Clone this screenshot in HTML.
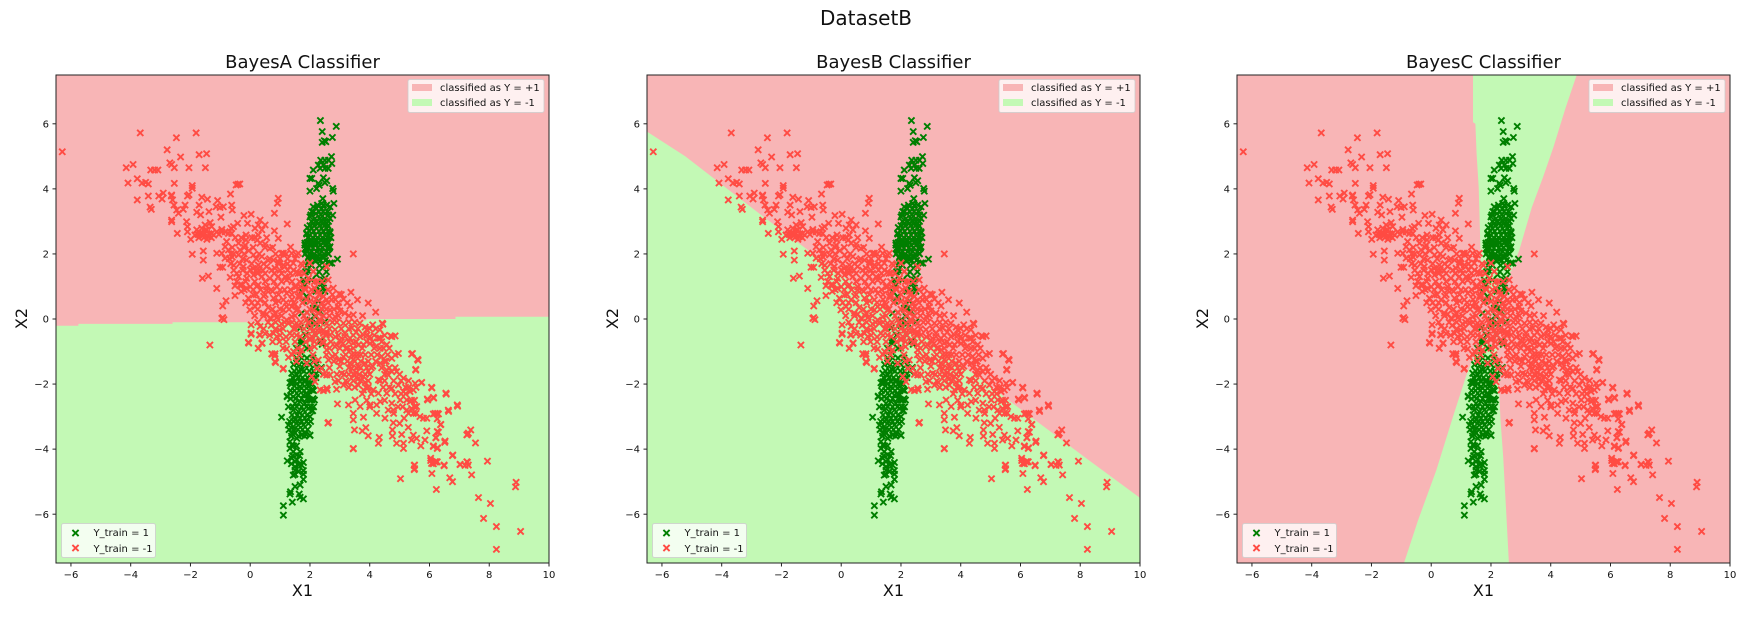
<!DOCTYPE html>
<html>
<head>
<meta charset="utf-8">
<title>DatasetB</title>
<style>
html,body{margin:0;padding:0;background:#fff;}
svg{display:block;}
text{font-family:"DejaVu Sans","Liberation Sans",sans-serif;fill:#111;}
</style>
</head>
<body>
<svg id="fig" xmlns="http://www.w3.org/2000/svg" width="1756" height="618" viewBox="0 0 1756 618">
<text x="866" y="25" font-size="20" text-anchor="middle">DatasetB</text>
</svg>
<script>
const xTicks = [-6,-4,-2,0,2,4,6,8,10];
const yTicks = [-6,-4,-2,0,2,4,6];
const xDomain = [-6.5,10];
const yDomain = [-7.5,7.5];
const classifierNames = ["BayesA Classifier","BayesB Classifier","BayesC Classifier"];
const regionLabels = ["classified as Y = +1","classified as Y = -1"];
const trainLabels = ["Y_train = 1","Y_train = -1"];

const boundaryA = [[-6.5,-0.21],[-5.75,-0.21],[-5.75,-0.15],[-2.6,-0.15],[-2.6,-0.1],[0.7,-0.1],[0.7,-0.05],[3.9,-0.05],[3.9,0],[6.87,0],[6.87,0.07],[10,0.07]];
const boundaryB = [[-6.5,5.76],[-5.22,5.0],[-2.8,3.28],[-0.49,1.69],[5.65,-2.53],[8.2,-4.28],[10,-5.5]];
const wedgeUpperC = [[1.40,7.5],[1.40,6.05],[1.48,6],[1.52,5.08],[1.59,4.05],[1.65,2.1],[1.72,1.0],[2.0,0.6],[2.69,1.49],[2.94,2.1],[3.37,3.44],[3.74,4.36],[4.09,5.28],[4.5,6.5],[4.87,7.5]];
const wedgeLowerC = [[-0.91,-7.5],[-0.44,-6.18],[0.17,-4.65],[0.73,-3.0],[1.16,-1.77],[1.4,-1.2],[1.8,-0.7],[2.2,-0.9],[2.26,-1.87],[2.32,-3.1],[2.41,-4.24],[2.51,-5.93],[2.6,-7.5]];

const greenPoints = [
[2.35,6.1],[2.88,5.92],[2.41,5.76],[2.75,5.58],[2.41,5.43],[2.53,5.45],[2.48,5.48],[2.72,4.99],[2.36,4.88],[2.5,4.88],[2.62,4.88],[2.73,4.78],[2.28,4.73],[2.45,4.73],[2.61,4.63],[2.34,4.63],[2.5,4.63],[2.11,4.58],[2.06,4.32],[2.0,4.32],[2.45,4.34],[2.56,4.25],[2.5,4.19],[2.28,4.17],[2.22,4.01],[2.31,4.11],[2.0,3.93],[2.76,4.01],[2.78,3.93],[2.43,3.7],[2.39,3.55],[2.56,3.5],[2.8,3.55],[2.11,3.45],[2.22,3.4],[2.39,3.4],[2.06,3.3],[2.2,3.24],[2.5,3.24],[2.67,3.45],[2.76,3.19],[2.0,3.14],[2.17,3.09],[2.34,3.09],[2.5,3.09],[2.67,3.09],[2.11,2.94],[2.28,2.94],[2.45,2.94],[2.56,2.94],[1.91,2.81],[2.06,2.78],[2.22,2.78],[2.39,2.78],[2.56,2.78],[2.67,2.68],[1.89,2.61],[2.0,2.58],[2.17,2.58],[2.34,2.58],[2.5,2.58],[2.06,2.42],[2.22,2.42],[2.39,2.42],[2.56,2.42],[1.83,2.27],[2.0,2.27],[2.17,2.27],[2.34,2.27],[2.5,2.27],[2.67,2.22],[1.89,2.07],[2.06,2.07],[2.22,2.07],[2.39,2.07],[2.56,2.07],[1.95,1.91],[2.11,1.91],[2.28,1.91],[2.45,1.91],[2.61,2.01],[2.92,1.84],
[1.89,2.64],[2.67,2.64],[1.83,2.33],[2.5,2.38],[1.89,2.13],[2.17,2.33],[2.34,2.13],[2.11,1.97],[2.45,1.92],[1.95,1.87],[2.28,1.82],[2.67,1.72],[2.73,1.72],[1.95,1.46],[2.22,1.36],[2.39,1.1],[2.45,0.95],[1.89,0.69],[2.11,0.33],[2.22,-0.13],[1.67,-0.28],[1.67,-0.69],[2.5,1.25],[1.83,1.05],[2.17,0.08],[2.34,-0.69],
[1.11,-5.74],[1.11,-6.03],[1.41,-5.63],[1.78,-5.53],[1.64,-5.38],[1.67,-5.48],[1.35,-5.31],[1.33,-5.38],[1.5,-5.15],[1.67,-5.1],[1.78,-4.93],[1.78,-4.77],[1.78,-4.66],[1.44,-4.8],[1.5,-4.77],[1.61,-4.69],[1.24,-4.36],[1.78,-4.41],[1.72,-4.49],[1.61,-4.49],[1.5,-4.38],[1.56,-4.33],[1.39,-4.28],[1.5,-4.54],[1.44,-4.08],[1.67,-4.08],[1.33,-3.98],[1.56,-4.18],[1.39,-3.87],[1.33,-3.77],[1.05,-3.02],[1.24,-2.39],[2.0,-3.57],[1.56,-3.67],[1.39,-3.51],[1.72,-3.57],[1.83,-3.51],[1.5,-3.51],[1.28,-3.26],[1.44,-3.31],[1.61,-3.26],[1.78,-3.26],[1.95,-3.21],[1.5,-3.1],[1.67,-3.05],[1.83,-3.05],[2.0,-3.0],[2.09,-2.82],[1.28,-2.7],[1.44,-2.8],[1.61,-2.85],[1.78,-2.8],[1.95,-2.75],[1.5,-2.59],[1.67,-2.54],[1.83,-2.59],[2.0,-2.49],[2.15,-2.49],[1.44,-2.39],[1.61,-2.34],[1.78,-2.34],[1.95,-2.34],[1.56,-2.13],[1.72,-2.13],[1.89,-2.13],[2.06,-2.18],[1.5,-1.93],[1.67,-1.93],[1.83,-1.93],[2.0,-1.98],[1.33,-1.96],
[1.24,-2.37],[1.39,-1.93],[1.67,-2.08],[1.89,-2.33],[1.39,-1.67],[1.56,-1.36],[1.72,-1.57],[1.89,-1.36],[1.56,-1.72],[1.84,-1.87],[1.72,-0.75],[1.67,-1.0],[1.89,0.69],[2.12,0.33],[1.72,0.18],[2.0,-0.03],[2.39,1.1],[2.34,0.89],[2.23,0.33],[1.78,1.05],[2.34,0.23],[2.5,-0.08],[2.38,-1.49],[2.19,-1.69],[2.06,-2.49],[2.06,-2.82],[2.41,-0.78],[1.74,-0.67],[2.0,-3.58],
[2.25,3.5],[2.45,3.5],[2.12,3.3],[2.3,3.3],[2.44,3.3],[2.6,3.3],[2.03,3.2],[2.36,3.2],[2.62,3.2],[2.05,3.0],[2.2,3.0],[2.38,3.0],[2.5,3.0],[2.62,3.0],[2.0,2.87],[2.14,2.87],[2.33,2.87],[2.48,2.87],[2.6,2.87],[1.98,2.7],[2.12,2.7],[2.3,2.7],[2.44,2.7],[2.6,2.7],[1.93,2.5],[2.1,2.5],[2.25,2.5],[2.42,2.5],[2.58,2.5],[2.7,2.5],[1.9,2.35],[2.02,2.35],[2.12,2.35],[2.3,2.35],[2.45,2.35],[2.62,2.35],[1.86,2.18],[1.96,2.18],[2.1,2.18],[2.26,2.18],[2.42,2.18],[2.58,2.18],[2.65,2.18],[1.84,2.0],[1.98,2.0],[2.14,2.0],[2.3,2.0],[2.47,2.0],[2.62,2.0],[1.98,1.8],[2.17,1.8],[2.36,1.8],[2.52,1.8],[1.9,1.65],[2.05,1.65],[2.32,1.65],[2.5,1.65],
[1.85,1.45],[2.3,1.45],[2.55,1.45],[1.78,1.2],[2.05,1.2],[2.45,1.2],[1.72,0.85],[2.2,0.85],[2.5,0.85],[1.8,0.55],[2.28,0.55],[1.9,0.2],[2.32,0.2],[1.62,-0.2],[2.0,-0.2],[1.85,-0.5],[2.2,-0.5],[1.55,-0.9],[1.9,-0.9],
[1.55,-1.2],[1.72,-1.2],[1.9,-1.2],[2.1,-1.2],[1.45,-1.4],[1.65,-1.4],[1.8,-1.4],[2.0,-1.4],[2.2,-1.4],[1.48,-1.6],[1.62,-1.6],[1.8,-1.6],[1.98,-1.6],[2.12,-1.6],[2.3,-1.6],[1.42,-1.8],[1.6,-1.8],[1.75,-1.8],[1.92,-1.8],[2.06,-1.8],[2.2,-1.8],[1.38,-2.0],[1.55,-2.0],[1.75,-2.0],[1.9,-2.0],[2.08,-2.0],[1.35,-2.2],[1.48,-2.2],[1.64,-2.2],[1.8,-2.2],[1.97,-2.2],[2.12,-2.2],[1.35,-2.45],[1.52,-2.45],[1.72,-2.45],[1.9,-2.45],[2.1,-2.45],[1.42,-2.7],[1.56,-2.7],[1.72,-2.7],[1.88,-2.7],[2.02,-2.7],[2.12,-2.7],[1.4,-2.95],[1.58,-2.95],[1.74,-2.95],[1.9,-2.95],[1.32,-3.15],[1.45,-3.15],[1.6,-3.15],[1.72,-3.15],[1.88,-3.15],[2.02,-3.15],[1.3,-3.4],[1.45,-3.4],[1.6,-3.4],[1.75,-3.4],[1.92,-3.4],[1.38,-3.6],[1.62,-3.6],[1.82,-3.6],[1.45,-3.9],[1.55,-3.9],[1.42,-4.2],[1.65,-4.2],[1.38,-4.45],[1.66,-4.45],[1.5,-4.65]
];

const redPoints = [
[-6.29,5.14],[-3.68,5.72],[-1.81,5.72],[-2.47,5.57],[-2.78,5.2],[-2.33,4.98],[-1.71,5.05],[-1.46,5.08],[-2.69,4.8],[-2.63,4.75],[-2.54,4.65],[-2.05,4.65],[-1.5,4.65],[-4.15,4.65],[-3.92,4.75],[-3.33,4.58],[-3.2,4.58],[-3.09,4.58],[-3.78,4.31],[-4.09,4.18],[-3.62,4.18],[-3.41,4.15],[-3.5,4.2],[-3.41,3.78],[-3.06,3.78],[-2.91,3.87],[-2.95,3.69],[-3.78,3.66],[-3.35,3.44],[-3.31,3.37],[-2.64,3.78],
[-2.54,4.17],[-1.94,4.1],[-1.94,4.02],[-0.41,4.14],[-0.47,4.12],[-0.35,4.15],[-2.05,3.82],[-2.1,3.78],[-0.66,3.84],[-2.63,3.81],[-1.62,3.74],[-1.43,3.68],[0.94,3.71],[0.91,3.56],[-2.6,3.66],[-2.55,3.5],[-2.46,3.35],[-2.4,3.25],[-2.18,3.5],[-2.24,3.37],[-1.71,3.5],[-1.09,3.64],[-1.14,3.45],[-1.01,3.43],[-0.9,3.45],[-0.62,3.5],[-0.6,3.35],[-1.38,3.3],[-1.79,3.28],[-1.66,3.2],[-0.98,3.13],[0.81,3.25],[-0.21,3.18],[0.03,3.22],[-2.63,2.99],[-2.63,3.04],[-2.13,2.99],[-2.1,2.84],[-2.1,2.68],[-2.44,2.63],[1.24,2.92],[-0.09,2.94],[0.33,3.04],[0.5,2.89],[0.27,2.89],[0.16,2.79],[0.39,2.74],[-0.42,2.94],[-0.56,2.84],[-0.64,2.79],[-0.62,2.63],[-0.73,2.63],[-1.34,2.96],[-1.51,2.89],[-1.29,2.84],[-1.79,2.74],[-1.62,2.79],[-1.68,2.63],[-1.57,2.58],[-1.4,2.53],[-1.29,2.63],[-1.46,2.74],[-1.99,2.45],[-1.85,2.58],[-1.12,2.68],[-0.95,2.68],[-0.84,2.68],[0.81,2.71],[0.94,2.48],[-0.14,2.58],[-0.14,2.43],[-0.17,2.27],[0.27,2.58],[0.24,2.43],[0.33,2.33],[-0.79,2.38],[-0.84,2.22],[-0.73,2.12],[-0.95,2.02],[-0.84,1.87],[-0.39,2.33],[-0.34,2.12],[-0.39,1.97],[-1.12,2.02],[-1.94,1.99],[-1.57,2.09],[-1.57,1.81],[-0.92,1.59],[-1.01,1.59],[-1.6,1.25],[-1.4,1.32],[-1.12,0.94],[-0.67,1.28],
[-0.12,1.81],[0.11,1.97],[0.39,1.92],[0.66,2.17],[0.78,1.81],[1.05,2.02],[1.39,2.02],[1.61,2.02],[-0.23,1.61],[0,1.51],[0.27,1.66],[0.55,1.61],[0.83,1.56],[1.11,1.66],[1.33,1.61],[-0.39,1.3],[-0.12,1.25],[0.11,1.35],[0.39,1.3],[0.66,1.25],[0.94,1.3],[1.17,1.3],[-0.28,1.05],[0,0.99],[0.27,1.05],[0.55,0.99],[0.89,0.99],[1.5,0.99],
[-0.51,1.02],[-0.51,0.72],[-0.81,0.56],[-0.92,0.4],[-0.92,0.04],[-0.06,-0.72],[0.03,-0.18],[0.03,-0.44],[0.33,-0.23],[0.31,-0.49],[0.39,-0.75],[0.27,-0.9],[0.78,-0.44],[0.98,-0.34],[0.98,-0.7],[0.89,-0.54],[0.72,-1.07],[0.83,-1.07],[0.83,-1.31],[1.11,-1.52],[1.22,-0.92],[1.28,-1.18],[1.45,-1.0],
[-0.06,0.64],[0.16,0.38],[-0.01,0.28],[0.33,0.59],[0.44,0.18],[0.66,0.02],[0.83,0.18],[0.11,0.74],[-0.12,0.94],[0.55,0.89],[1.0,0.89],[1.11,0.59],[0.78,0.64],[1.11,0.28],[1.39,0.38],[1.39,0.07],[1.61,-0.23],[1.28,-0.13],[1.61,0.69],[1.67,1.0],[1.89,0.59],[2.12,0.28],[2.34,-0.03],[2.56,0.59],[2.45,-0.34],[2.12,-0.34],[1.89,-0.03],[1.67,-0.54],[2.0,-0.64],[2.34,-0.64],[2.56,-0.8],[0.22,1.0],[-0.34,1.05],
[2.06,-1.77],[2.17,-1.93],[2.34,-2.18],[2.56,-2.13],[2.23,-1.52],[2.39,-1.52],[2.56,-1.72],[1.89,-1.36],[1.72,-0.95],[2.28,-1.26],[2.62,-1.26],
[3.45,2.0],[1.35,2.21],[3.37,0.82],[3.59,0.59],[3.95,0.49],[4.2,0.21],[2.98,0.77],[3.12,0.61],[3.34,0.4],[2.95,0.38],[3.17,0.18],[2.78,0.95],[3.45,0.13],[3.76,0.1],[3.67,-0.13],[4.1,-0.18],[3.9,-0.33],[4.42,-0.13],[4.34,-0.33],[4.85,-0.52],[4.7,-0.52],[4.29,-0.59],[4,-0.54],[3.67,-0.54],[3.4,-0.28],[3.12,-0.13],[2.84,0.07],[2.67,0.28],[2.73,0.59],[2.45,0.38],[2.56,-0.13],[2.84,-0.33],[3.17,-0.54],[3.45,-0.74],[3.79,-0.79],[4.57,-0.79],[2.45,-0.44],[2.17,-0.13],
[1.11,2.02],[1.55,1.97],[1.16,1.61],[1.44,1.72],[1.67,1.41],[1.22,1.2],[1.55,1.0],[1.22,0.79],[1.83,0.95],[1.67,0.69],[1.22,0.38],[1.55,0.28],[2.0,1.72],[2.11,1.46],[2.56,1.61],[2.61,1.2],[2.28,0.85],[2,0.54],[2.45,0.69],[2.28,0.18],[1.95,-0.13],[1.55,-0.13],[1.22,-0.03],[1.67,-0.54],[1.33,-0.44],[2.06,-0.54],[2.45,-0.74],[2.89,-0.79],
[5.43,-1.06],[5.6,-1.24],[5.54,-1.55],[5.74,-1.95],[6.07,-2.1],[6.55,-2.28],[6.13,-2.41],[5.93,-2.46],[6.93,-2.64],[6.63,-2.8],[6.38,-3.24],[6.19,-2.9],[6.27,-2.9],[2.62,-3.18],[2.92,-2.61],[2.45,-2.2],[2.58,-2.18],[2.89,-2.16],[3.29,-2.64],[3.45,-2.9],[3.45,-3.1],[3.79,-3.02],[3.49,-3.41],[3.75,-3.44],[3.87,-3.34],[3.95,-3.59],[4.32,-3.64],[4.29,-3.82],[3.45,-3.98],[4.51,-3.05],[4.79,-3.19],[5.0,-3.21],[5.15,-3.05],[5.29,-3.33],[4.76,-3.41],[4.76,-3.6],[5.07,-3.55],[4.9,-3.82],[5.13,-3.82],[5.13,-3.98],[5.46,-3.57],[5.57,-3.67],[5.4,-3.72],[5.71,-3.9],[5.85,-3.72],[5.91,-3.44],[6.26,-3.46],[6.22,-3.65],[6.13,-3.9],[6.26,-3.98],[6.52,-3.75],[6.78,-4.18],[5.5,-4.49],[5.5,-4.6],[6.04,-4.28],[6.19,-4.39],[6.07,-4.44],[6.26,-4.39],[6.49,-4.49],[7.02,-4.47],[7.25,-4.39],[7.3,-4.49],[7.3,-3.51],[7.25,-3.56],
[5.57,-2.69],[5.46,-2.9],[5.8,-3.05],[5.91,-3.05],[5.35,-2.54],[5.24,-2.49],[5.13,-2.23],[5.46,-2.18],[4.96,-2.03],[4.74,-2.13],[4.57,-2.28],[4.29,-2.28],[4.12,-2.18],[3.9,-2.13],[3.51,-2.49],[3.68,-2.69],[4.01,-2.64],[4.23,-2.64],[4.35,-2.54],[4.74,-2.59],[4.79,-2.8],[4.62,-2.8],[5.02,-2.49],[5.24,-2.8],[5.4,-2.75],[5.68,-3.0],[4.23,-2.9],[3.79,-2.18],[3.62,-2.03],[3.12,-2.03],[2.67,-1.72],[2.84,-1.93],[3.06,-1.67],[3.34,-1.36],[3.62,-1.47],[3.84,-1.36],[3.79,-1.77],[3.51,-1.72],[3.4,-1.52],[2.95,-1.26],[3.12,-1.16],[2.84,-0.85],[2.56,-0.95],[3.0,-0.65],[3.34,-0.59],[2.67,-0.49],[3.17,-0.44],[3.62,-0.8],[3.79,-0.49],[4.01,-0.75],[4.35,-0.59],[4.74,-0.54],[4.46,-0.9],[4.74,-1.21],[4.35,-1.36],[4.74,-1.62],[4.96,-1.06],[4.9,-1.62],[4.29,-1.87],[4.57,-1.57],[5.13,-1.82],[5.52,-1.98],[5.35,-2.23],
[3.2,-0.9],[3.5,-1.1],[3.3,-1.7],[3.7,-1.1],[3.6,-1.85],[3.95,-1.6],[3.45,-1.25],[3.55,-1.65],
[8.9,-5.02],[8.88,-5.16],[9.05,-6.53],[8.24,-6.38],[8.24,-7.08],[7.81,-6.13],[8.04,-5.67],[7.64,-5.49],[7.41,-4.79],[7.94,-4.37],[7.54,-3.81],[7.38,-3.41],[7.27,-3.55],[7.27,-4.4],[7.19,-4.5],[7.03,-4.47],[6.77,-4.2],[6.68,-4.88],[6.77,-5.0],[6.23,-5.24],[6.08,-4.75],[5.03,-4.91],[5.49,-4.5],[5.49,-4.63],[6.04,-4.35],[6.13,-4.45],[6.23,-4.39],[6.27,-3.96],[6.13,-3.92],[6.51,-3.79],[6.21,-3.65],[6.3,-3.48],[6.37,-3.25],[6.13,-2.92],[6.3,-2.92],[6.26,-3.07],[6.64,-2.84],[6.94,-2.68],[6.56,-2.31],[6.14,-2.43],[5.94,-2.49],[6.08,-2.12],[5.73,-1.96],[6.49,-4.51],[5.4,-1.08],[5.62,-1.27],[5.54,-1.57],[3.45,-3.99],[2.6,-3.2],[-1.35,-0.8],[-0.05,-0.74],[0.03,-0.47],[0.33,-0.49],[0.27,-0.9],[0.4,-0.74],[0.74,-1.08],[0.82,-1.13],[0.85,-1.34],[1.1,-1.54],[-0.95,0.02],[-0.88,-0.02],[4.44,-0.16],
[-0.3,0.85],[0.05,0.5],[0.6,0.35],[0.45,0.7],[0.75,0.85],[0.95,0.55],[0.55,0.15],[0.9,0.05],[1.05,-0.15],[0.7,-0.2],[0.5,-0.45],[1.2,-0.55],[1.45,-0.3],[1.4,0.6],[1.5,0.45],[1.9,0.2],[2.2,0.6],[2.6,0.9],[2.85,0.6],[3.0,0.25],[2.75,-0.1],[2.3,-0.4],[2.15,-0.85],[2.55,-0.45],[2.85,-0.55],[3.1,-0.75],[3.35,-0.95],[3.55,-0.4],[3.85,-0.25],[4.2,-0.85],[4.05,-1.1],[4.4,-1.15],[4.55,-1.3],[3.0,-1.45],[2.75,-1.15],[3.25,-1.95],[3.85,-1.95],[4.1,-1.45],[0.3,1.5],[0.6,1.8],[0.95,1.75],[-0.05,2.1],[0.5,2.3],[-0.55,1.65],[-0.6,1.9],[0.1,1.55],[1.3,1.25],[1.55,1.45],[1.75,1.65],[1.95,1.25],[2.25,1.15],[2.15,0.95],
[-1.75,2.6],[-1.6,2.65],[-1.5,2.72],[-1.38,2.62],[-1.22,2.58],[-1.05,2.6],[-1.55,2.5],[-1.72,2.5],[-1.45,2.45],[-1.3,2.5],[-0.95,2.75],
[-0.5,2.5],[-0.3,2.5],[0.05,2.5],[0.15,2.5],[0.55,2.5],[-0.6,2.2],[-0.2,2.2],[0.1,2.2],[0.5,2.2],[0.75,2.2],[-0.65,2.0],[-0.55,2.0],[-0.2,2.0],[0.3,2.0],[0.85,2.0],[1.2,2.0],[-0.7,1.85],[-0.25,1.85],[0.2,1.85],[0.65,1.85],[1.0,1.85],[1.25,1.85],[1.5,1.85],[-0.65,1.7],[-0.35,1.7],[0.05,1.7],[0.45,1.7],[0.95,1.7],[1.25,1.7],[1.7,1.7],[-0.55,1.5],[-0.25,1.5],[0.2,1.5],[0.42,1.5],[0.72,1.5],[1.0,1.5],[1.25,1.5],[1.45,1.5],[-0.45,1.4],[-0.1,1.4],[0.25,1.4],[0.5,1.4],[0.8,1.4],[1.05,1.4],[1.35,1.4],[1.6,1.4],[1.8,1.4],
[-0.45,1.15],[-0.15,1.15],[0.15,1.15],[0.5,1.15],[0.8,1.15],[1.05,1.15],[1.4,1.15],[1.65,1.15],[1.9,1.15],[2.15,1.15],[2.4,1.15],[-0.2,0.9],[0.1,0.9],[0.35,0.9],[0.7,0.9],[1.15,0.9],[1.35,0.9],[1.6,0.9],[1.85,0.9],[2.05,0.9],[2.6,0.9],[0.2,0.75],[0.5,0.75],[0.95,0.75],[1.4,0.75],[1.65,0.75],[2.0,0.75],[2.3,0.75],[2.75,0.75],[3.05,0.75],[-0.15,0.5],[0.25,0.5],[0.5,0.5],[0.85,0.5],[1.2,0.5],[1.45,0.5],[1.75,0.5],[2.15,0.5],[2.4,0.5],[2.6,0.5],[2.95,0.5],[3.25,0.5],[0.25,0.3],[0.75,0.3],[1.0,0.3],[1.3,0.3],[1.6,0.3],[2.0,0.3],[2.4,0.3],[2.55,0.3],[2.8,0.3],
[0.15,0.1],[0.45,0.1],[0.8,0.1],[1.05,0.1],[1.5,0.1],[1.8,0.1],[2.2,0.1],[2.45,0.1],[2.65,0.1],[2.95,0.1],[3.3,0.1],[0.25,-0.1],[0.6,-0.1],[0.85,-0.1],[1.15,-0.1],[1.4,-0.1],[1.7,-0.1],[1.95,-0.1],[2.35,-0.1],[2.9,-0.1],[3.3,-0.1],[3.5,-0.1],[0.45,-0.3],[0.85,-0.3],[1.1,-0.3],[1.5,-0.3],[1.8,-0.3],[2.0,-0.3],[2.3,-0.3],[2.65,-0.3],[3.05,-0.3],[3.3,-0.3],[3.6,-0.3],[4.0,-0.3],[4.2,-0.3],[0.65,-0.5],[1.0,-0.5],[1.4,-0.5],[1.55,-0.5],[1.9,-0.5],[2.2,-0.5],[2.55,-0.5],[2.95,-0.5],[3.45,-0.5],[3.9,-0.5],[4.15,-0.5],[4.5,-0.5],
[0.75,-0.7],[1.2,-0.7],[1.5,-0.7],[1.85,-0.7],[2.15,-0.7],[2.4,-0.7],[2.7,-0.7],[3.05,-0.7],[3.3,-0.7],[3.55,-0.7],[3.9,-0.7],[4.1,-0.7],[4.4,-0.7],[1.1,-0.9],[1.6,-0.9],[2.0,-0.9],[2.65,-0.9],[3.0,-0.9],[3.25,-0.9],[3.45,-0.9],[3.75,-0.9],[4.15,-0.9],[4.35,-0.9],[4.65,-0.9],[1.4,-1.1],[1.65,-1.1],[2.1,-1.1],[2.55,-1.1],[2.85,-1.1],[3.2,-1.1],[3.4,-1.1],[3.6,-1.1],[3.85,-1.1],[4.25,-1.1],[4.6,-1.1],[4.85,-1.1],[1.55,-1.3],[2.15,-1.3],[2.8,-1.3],[3.05,-1.3],[3.25,-1.3],[3.5,-1.3],[3.7,-1.3],[3.95,-1.3],[4.2,-1.3],[4.5,-1.3],
[2.65,-1.5],[3.3,-1.5],[3.55,-1.5],[3.7,-1.5],[3.9,-1.5],[4.05,-1.5],[4.4,-1.5],[4.65,-1.5],[4.85,-1.5],[2.45,-1.7],[2.9,-1.7],[3.15,-1.7],[3.45,-1.7],[3.65,-1.7],[3.85,-1.7],[4.0,-1.7],[4.5,-1.7],[4.6,-1.7],[5.0,-1.7],[2.95,-1.9],[3.2,-1.9],[3.45,-1.9],[3.7,-1.9],[3.95,-1.9],[4.35,-1.9],[4.5,-1.9],[4.8,-1.9],[5.05,-1.9],[5.3,-1.9],[3.3,-2.1],[3.5,-2.1],[3.95,-2.1],[4.45,-2.1],[4.65,-2.1],[5.2,-2.1],[5.3,-2.1],[5.55,-2.1],[3.75,-2.3],[4.05,-2.3],[4.85,-2.3],[5.05,-2.3],[5.2,-2.3],[3.9,-2.5],[4.5,-2.5],[5.4,-2.5],[5.5,-2.5],[4.0,-2.7],[4.95,-2.7],[5.1,-2.7],[5.5,-2.7],[4.8,-2.9],[5.3,-2.9],[5.55,-2.9]
];

const NS = "http://www.w3.org/2000/svg";
const fig = document.getElementById("fig");
const panelLefts = [56,647,1237];
const plotTop = 75, plotW = 493, plotH = 488;

function make(tag, attrs, parent){
  const e = document.createElementNS(NS, tag);
  for (const k in attrs) e.setAttribute(k, attrs[k]);
  parent.appendChild(e);
  return e;
}
function tickText(v){ return (v < 0 ? "\u2212" : "") + Math.abs(v); }

function crossPath(cx, cy, r){
  return "M"+(cx-r)+" "+(cy-r)+"L"+(cx+r)+" "+(cy+r)+"M"+(cx-r)+" "+(cy+r)+"L"+(cx+r)+" "+(cy-r);
}

function drawPanel(idx){
  const left = panelLefts[idx];
  const sx = v => left + (v - xDomain[0]) / (xDomain[1] - xDomain[0]) * plotW;
  const sy = v => plotTop + (yDomain[1] - v) / (yDomain[1] - yDomain[0]) * plotH;
  const toPts = arr => arr.map(p => sx(p[0]).toFixed(1) + "," + sy(p[1]).toFixed(1)).join(" ");

  const g = make("g", {}, fig);
  
  

  const pink = make("rect", {x:left, y:plotTop, width:plotW, height:plotH, fill:"#f8b5b6"}, g);
  
  

  const regionPolys = [];
  if (idx === 0) {
    regionPolys.push(boundaryA.concat([[xDomain[1],yDomain[0]],[xDomain[0],yDomain[0]]]));
  } else if (idx === 1) {
    regionPolys.push(boundaryB.concat([[xDomain[1],yDomain[0]],[xDomain[0],yDomain[0]]]));
  } else {
    regionPolys.push(wedgeUpperC);
    regionPolys.push(wedgeLowerC);
  }
  regionPolys.forEach(function(poly){
    const rp = make("polygon", {points:toPts(poly), fill:"#c3f9b5"}, g);
    
    
  });

  greenPoints.forEach(function(p){
    const m = make("path", {d:crossPath(sx(p[0]), sy(p[1]), 3.1), stroke:"#007f00", "stroke-width":1.9, fill:"none"}, g);
    
    
  });
  redPoints.forEach(function(p){
    const m = make("path", {d:crossPath(sx(p[0]), sy(p[1]), 3.1), stroke:"#ff4b43", "stroke-width":1.9, fill:"none"}, g);
    
    
  });

  const frame = make("rect", {x:left, y:plotTop, width:plotW, height:plotH, fill:"none", stroke:"#222", "stroke-width":1}, g);
  
  

  xTicks.forEach(function(v){
    const x = sx(v);
    const t = make("line", {x1:x, x2:x, y1:plotTop+plotH, y2:plotTop+plotH+3.5, stroke:"#222", "stroke-width":1}, g);
    
    
    const l = make("text", {x:x, y:plotTop+plotH+15, "font-size":10, "text-anchor":"middle"}, g);
    l.textContent = tickText(v);
    
    
  });
  yTicks.forEach(function(v){
    const y = sy(v);
    const t = make("line", {x1:left-3.5, x2:left, y1:y, y2:y, stroke:"#222", "stroke-width":1}, g);
    
    
    const l = make("text", {x:left-7, y:y+3.6, "font-size":10, "text-anchor":"end"}, g);
    l.textContent = tickText(v);
    
    
  });

  const cx = left + plotW/2;
  const title = make("text", {x:cx, y:68, "font-size":18, "text-anchor":"middle"}, g);
  title.textContent = classifierNames[idx];
  
  

  const xl = make("text", {x:cx, y:596, "font-size":16, "text-anchor":"middle"}, g);
  xl.textContent = "X1";
  
  

  const yl = make("text", {x:0, y:0, "font-size":16, "text-anchor":"middle", transform:"translate("+(left-29)+" "+(plotTop+243.5)+") rotate(-90)"}, g);
  yl.textContent = "X2";
  
  

  const rx = left + plotW - 5 - 136;
  const lg = make("g", {}, g);
  
  
  const lb = make("rect", {x:rx, y:79.5, width:136, height:33, rx:2, fill:"#fff", "fill-opacity":0.8, stroke:"#ccc", "stroke-opacity":0.8, "stroke-width":1}, lg);
  
  
  const pa = make("rect", {x:rx+4, y:84, width:20, height:7, fill:"#f8b5b6"}, lg);
  
  
  const pb = make("rect", {x:rx+4, y:99, width:20, height:7, fill:"#c3f9b5"}, lg);
  
  
  const ta = make("text", {x:rx+32, y:91, "font-size":10}, lg);
  ta.textContent = regionLabels[0];
  
  
  const tb = make("text", {x:rx+32, y:106, "font-size":10}, lg);
  tb.textContent = regionLabels[1];
  
  

  const bx = left + 5.5;
  const lg2 = make("g", {}, g);
  
  
  const lb2 = make("rect", {x:bx, y:523.5, width:94, height:34, rx:2, fill:"#fff", "fill-opacity":0.8, stroke:"#ccc", "stroke-opacity":0.8, "stroke-width":1}, lg2);
  
  
  const ma = make("path", {d:crossPath(bx+14, 533, 3.1), stroke:"#007f00", "stroke-width":1.9, fill:"none"}, lg2);
  
  
  const mb = make("path", {d:crossPath(bx+14, 548, 3.1), stroke:"#ff4b43", "stroke-width":1.9, fill:"none"}, lg2);
  
  
  const tc = make("text", {x:bx+32, y:536, "font-size":10}, lg2);
  tc.textContent = trainLabels[0];
  
  
  const td = make("text", {x:bx+32, y:552, "font-size":10}, lg2);
  td.textContent = trainLabels[1];
  
  
}
[0,1,2].forEach(drawPanel);
</script>
</body>
</html>
